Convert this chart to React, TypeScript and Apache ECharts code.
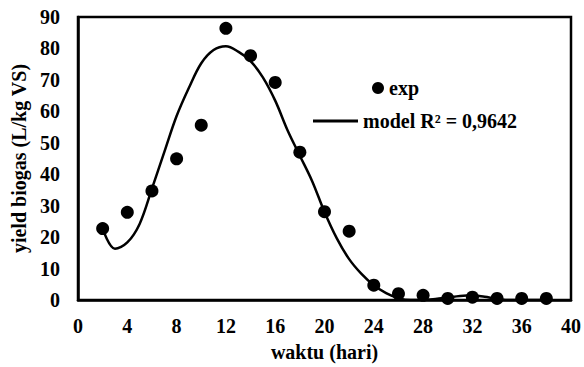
import React, { useEffect, useRef } from "react";
import * as echarts from "echarts";

const expDays = [2, 4, 6, 8, 10, 12, 14, 16, 18, 20, 22, 24, 26, 28, 30, 32, 34, 36, 38];
const expYield = [22.7, 27.9, 34.7, 44.9, 55.6, 86.4, 77.7, 69.2, 47.0, 28.1, 21.9, 4.7, 2.0, 1.5, 0.5, 0.9, 0.5, 0.5, 0.5];

const modelDays = [2, 3, 4, 5, 6, 7, 8, 9, 10, 11, 12, 13, 14, 15, 16, 17, 18, 19, 20, 21, 22, 23, 24, 25, 26, 27, 28, 29, 30, 31, 32, 33, 34, 35, 36, 37, 38];
const modelYield = [22.7, 16.3, 18.3, 24.2, 35.4, 47.0, 58.5, 67.5, 75.3, 79.5, 80.7, 79.0, 76.0, 70.8, 63.4, 54.0, 45.9, 37.8, 28.0, 19.6, 13.0, 8.3, 4.7, 2.2, 0.6, 0.0, 0.0, 0.3, 0.8, 1.3, 1.5, 1.0, 0.4, 0.0, 0.0, 0.0, 0.0];

const xTicks = { min: 0, max: 40, interval: 4 };
const yTicks = { min: 0, max: 90, interval: 10 };

const expName = "exp";
const modelName = "model R\u00b2 = 0,9642";
const xName = "waktu (hari)";
const yName = "yield biogas (L/kg VS)";

const FONT = "'Liberation Serif', 'Times New Roman', serif";

export default function App() {
  const ref = useRef<HTMLDivElement>(null);
  useEffect(() => {
    if (!ref.current) return;
    const chart = echarts.init(ref.current, undefined, { renderer: "svg" });
    const txt = { color: "#000", fontFamily: FONT, fontWeight: "bold" as const, fontSize: 20 };
    chart.setOption({
      animation: false,
      backgroundColor: "#fff",
      grid: { left: 78, right: 10, top: 17, bottom: 57, show: true, borderColor: "#000", borderWidth: 2.5, containLabel: false },
      legend: [
        {
          data: [{ name: expName, icon: "circle" }],
          left: 372,
          top: 78,
          itemWidth: 12,
          itemHeight: 12,
          textStyle: txt,
          padding: 0,
        },
        {
          data: [{ name: modelName, icon: "rect" }],
          left: 313,
          top: 111,
          itemWidth: 45,
          itemHeight: 3,
          itemStyle: { color: "#000" },
          textStyle: txt,
          padding: 0,
        },
      ],
      xAxis: {
        type: "value",
        min: xTicks.min,
        max: xTicks.max,
        interval: xTicks.interval,
        name: xName,
        nameLocation: "middle",
        nameGap: 42,
        nameTextStyle: txt,
        axisLine: { show: true, lineStyle: { color: "#000", width: 2.5 } },
        axisTick: { show: false },
        splitLine: { show: false },
        axisLabel: { ...txt, margin: 16 },
      },
      yAxis: {
        type: "value",
        min: yTicks.min,
        max: yTicks.max,
        interval: yTicks.interval,
        name: yName,
        nameLocation: "middle",
        nameGap: 44,
        nameRotate: 90,
        nameTextStyle: txt,
        axisLine: { show: true, lineStyle: { color: "#000", width: 2.5 } },
        axisTick: { show: false },
        splitLine: { show: false },
        axisLabel: { ...txt, margin: 18 },
      },
      series: [
        {
          name: modelName,
          type: "line",
          data: modelDays.map((d, i) => [d, modelYield[i]]),
          smooth: 0.35,
          symbol: "none",
          lineStyle: { color: "#000", width: 2.5 },
          itemStyle: { color: "#000" },
          z: 2,
        },
        {
          name: expName,
          type: "scatter",
          data: expDays.map((d, i) => [d, expYield[i]]),
          symbol: "circle",
          symbolSize: 13,
          itemStyle: { color: "#000", opacity: 1 },
          z: 3,
        },
      ],
    });
    return () => chart.dispose();
  }, []);
  return <div ref={ref} style={{ width: 584, height: 367, position: "absolute", left: 0, top: 0 }} />;
}
